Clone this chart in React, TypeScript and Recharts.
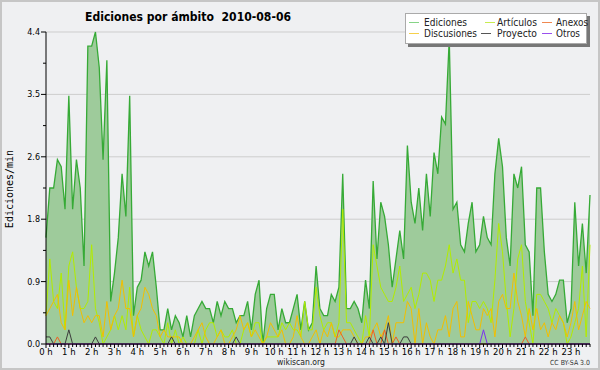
import React from 'react';
import { ComposedChart, Area, Line, XAxis, YAxis, CartesianGrid } from 'recharts';

const FONT = '"DejaVu Sans", "Liberation Sans", sans-serif';
const MONO = '"DejaVu Sans Mono", "Liberation Mono", monospace';

const ediciones = [
  1.5, 2.2, 2.2, 2.6, 2.5, 1.9, 3.5, 1.9, 2.6, 2.2, 1.1, 4.2,
  4.2, 4.4, 3.9, 2.6, 4.0, 0.6, 1.0, 1.5, 2.4, 1.8, 3.5, 0.4,
  0.8, 0.9, 1.3, 1.1, 1.3, 0.8, 0.2, 0.2, 0.5, 0.2, 0.4, 0.3,
  0.1, 0.4, 0.1, 0.4, 0.5, 0.6, 0.5, 0.5, 0.3, 0.6, 0.4, 0.6,
  0.5, 0.5, 0.3, 0.4, 0.4, 0.6, 0.2, 0.7, 0.9, 0.0, 0.5, 0.7,
  0.7, 0.2, 0.5, 0.3, 0.3, 0.5, 0.7, 0.2, 0.6, 0.2, 0.3, 1.1,
  0.5, 0.4, 0.4, 0.7, 0.6, 0.8, 2.4, 0.5, 0.5, 0.6, 0.5, 0.3,
  0.9, 0.5, 2.3, 1.2, 2.0, 1.8, 1.4, 0.8, 1.2, 1.6, 1.2, 2.8,
  2.0, 1.7, 2.2, 1.6, 2.4, 1.8, 2.7, 2.4, 3.2, 3.1, 4.3, 1.9,
  2.0, 1.4, 1.3, 1.7, 2.0, 1.3, 1.4, 1.8, 1.5, 1.4, 2.4, 2.9,
  2.5, 1.5, 1.1, 2.4, 2.2, 2.5, 1.4, 1.3, 0.4, 2.2, 2.2, 1.3,
  0.7, 0.6, 0.7, 0.9, 0.9, 0.3, 0.5, 2.0, 1.1, 1.7, 1.0, 2.1,
];

const articulos = [
  0.4, 1.2, 0.6, 0.5, 1.0, 0.2, 1.1, 1.3, 0.8, 0.5, 0.5, 0.6,
  1.4, 0.5, 0.3, 0.0, 0.1, 0.2, 0.4, 0.2, 0.4, 0.2, 0.8, 0.1,
  0.4, 0.2, 0.1, 0.0, 0.2, 0.2, 0.1, 0.0, 0.3, 0.0, 0.2, 0.0,
  0.1, 0.0, 0.0, 0.0, 0.2, 0.0, 0.2, 0.3, 0.3, 0.1, 0.2, 0.1,
  0.1, 0.2, 0.0, 0.0, 0.2, 0.3, 0.1, 0.3, 0.3, 0.0, 0.1, 0.1,
  0.1, 0.1, 0.3, 0.2, 0.3, 0.2, 0.2, 0.1, 0.6, 0.2, 0.2, 0.8,
  0.4, 0.2, 0.3, 0.3, 0.1, 0.3, 1.9, 0.3, 0.3, 0.2, 0.1, 0.0,
  0.4, 0.1, 1.4, 1.1, 0.8, 0.7, 0.6, 0.6, 0.8, 1.1, 0.6, 0.7,
  0.8, 0.5, 0.7, 1.0, 1.0, 0.9, 0.6, 0.9, 0.9, 1.1, 1.4, 1.0,
  1.2, 0.9, 0.9, 0.3, 0.6, 0.6, 0.5, 0.6, 0.5, 0.3, 0.9, 1.7,
  1.3, 0.6, 0.1, 0.5, 1.2, 1.4, 0.6, 0.3, 0.0, 0.7, 0.7, 0.6,
  0.5, 0.3, 0.5, 0.4, 0.3, 0.0, 0.1, 0.3, 0.5, 1.1, 0.1, 1.4,
];

const discusiones = [
  0.4, 0.5, 0.6, 0.7, 0.3, 0.2, 0.9, 0.4, 0.8, 0.5, 0.3, 0.4,
  0.3, 0.4, 0.4, 0.1, 0.6, 0.2, 0.4, 0.5, 0.9, 0.5, 0.5, 0.1,
  0.4, 0.5, 0.8, 0.7, 0.5, 0.4, 0.1, 0.2, 0.1, 0.1, 0.1, 0.1,
  0.0, 0.0, 0.0, 0.1, 0.2, 0.3, 0.1, 0.0, 0.0, 0.1, 0.2, 0.0,
  0.0, 0.1, 0.2, 0.4, 0.2, 0.3, 0.1, 0.2, 0.1, 0.0, 0.1, 0.3,
  0.2, 0.1, 0.2, 0.0, 0.0, 0.1, 0.4, 0.1, 0.0, 0.0, 0.1, 0.2,
  0.0, 0.2, 0.1, 0.3, 0.1, 0.1, 0.2, 0.2, 0.2, 0.1, 0.0, 0.0,
  0.1, 0.1, 0.2, 0.3, 0.1, 0.2, 0.4, 0.0, 0.3, 0.3, 0.3, 0.6,
  0.5, 0.0, 0.5, 0.0, 0.3, 0.1, 0.0, 0.2, 0.2, 0.4, 0.1, 0.5,
  0.6, 0.1, 0.1, 0.6, 0.4, 0.2, 0.2, 0.5, 0.4, 0.5, 0.1, 0.6,
  0.7, 0.5, 0.5, 1.0, 0.6, 0.4, 0.1, 0.5, 0.2, 0.5, 0.2, 0.3,
  0.1, 0.3, 0.2, 0.4, 0.3, 0.1, 0.3, 0.6, 0.2, 0.4, 0.6, 0.5,
];

const anexos = [
  0, 0, 0, 0.1, 0, 0, 0, 0, 0, 0, 0, 0,
  0, 0, 0, 0, 0, 0, 0, 0, 0, 0, 0, 0,
  0, 0, 0, 0, 0, 0, 0, 0, 0, 0, 0, 0,
  0, 0, 0, 0, 0, 0, 0, 0, 0, 0, 0, 0,
  0, 0, 0, 0, 0, 0, 0, 0, 0, 0, 0, 0,
  0, 0, 0, 0, 0, 0, 0, 0, 0, 0, 0, 0,
  0, 0, 0, 0, 0, 0.2, 0.1, 0, 0, 0, 0, 0,
  0, 0, 0.2, 0, 0, 0.2, 0, 0, 0.1, 0, 0, 0,
  0, 0, 0, 0, 0, 0, 0, 0, 0, 0, 0, 0,
  0, 0, 0, 0, 0, 0, 0, 0, 0, 0, 0, 0,
  0, 0, 0, 0, 0, 0, 0.1, 0, 0, 0, 0, 0,
  0, 0, 0, 0, 0, 0, 0, 0, 0, 0, 0, 0,
];

const proyecto = [
  0.1, 0.1, 0, 0, 0, 0, 0.2, 0, 0, 0, 0, 0,
  0, 0.1, 0, 0, 0, 0, 0, 0, 0, 0, 0, 0,
  0, 0, 0, 0, 0, 0, 0, 0, 0, 0.1, 0, 0,
  0, 0, 0, 0, 0, 0, 0, 0, 0, 0, 0, 0,
  0, 0, 0.1, 0, 0, 0, 0, 0, 0, 0, 0, 0,
  0, 0, 0, 0, 0, 0, 0, 0, 0, 0, 0, 0,
  0, 0, 0, 0, 0, 0, 0, 0, 0, 0.1, 0, 0,
  0, 0.1, 0, 0, 0.1, 0, 0.3, 0, 0, 0, 0.1, 0.1,
  0, 0, 0, 0, 0, 0, 0, 0, 0, 0, 0, 0,
  0, 0, 0, 0, 0, 0, 0, 0, 0, 0, 0, 0,
  0, 0, 0, 0, 0, 0, 0, 0, 0, 0, 0, 0,
  0, 0, 0, 0, 0, 0, 0, 0, 0, 0, 0, 0,
];

const otros = [
  0, 0, 0, 0, 0, 0, 0, 0, 0, 0, 0, 0,
  0, 0, 0, 0, 0, 0, 0, 0, 0, 0, 0, 0,
  0, 0, 0, 0, 0, 0, 0, 0, 0, 0, 0, 0,
  0, 0, 0, 0, 0, 0, 0, 0, 0, 0, 0, 0,
  0, 0, 0, 0, 0, 0, 0, 0, 0, 0, 0, 0,
  0, 0, 0, 0, 0, 0, 0, 0, 0, 0, 0, 0,
  0, 0, 0, 0, 0, 0, 0, 0, 0, 0, 0, 0,
  0, 0, 0, 0, 0, 0, 0, 0, 0, 0, 0, 0,
  0, 0, 0, 0, 0, 0, 0, 0, 0, 0, 0, 0,
  0, 0, 0, 0, 0, 0, 0, 0.2, 0, 0, 0, 0,
  0, 0, 0, 0, 0, 0, 0, 0, 0, 0, 0, 0,
  0, 0, 0, 0, 0, 0, 0, 0, 0, 0, 0, 0,
];

const hourLabels = [
  '0 h', '1 h', '2 h', '3 h', '4 h', '5 h', '6 h', '7 h', '8 h', '9 h', '10 h', '11 h',
  '12 h', '13 h', '14 h', '15 h', '16 h', '17 h', '18 h', '19 h', '20 h', '21 h', '22 h', '23 h',
];

const yTicks = [0, 0.44, 0.88, 1.32, 1.76, 2.2, 2.64, 3.08, 3.52, 3.96, 4.4];
const yGrid = [0.88, 1.76, 2.64, 3.52, 4.4];

const xTicks = ediciones.map((_, i) => i);

const data = ediciones.map((v, i) => ({
  t: i,
  ediciones: v,
  articulos: articulos[i],
  discusiones: discusiones[i],
  anexos: anexos[i],
  proyecto: proyecto[i],
  otros: otros[i],
}));

const XTick = (props: any) => {
  const { x, y, payload } = props;
  const v = payload.value as number;
  const major = v % 6 === 0;
  return (
    <g>
      <line x1={x} x2={x} y1={y} y2={y + (major ? 4 : 3)} stroke="#000" strokeWidth={1} />
      {major && (
        <text x={x} y={y + 11} textAnchor="middle" fontSize={8.5} fontFamily={FONT} fill="#000">
          {hourLabels[v / 6]}
        </text>
      )}
    </g>
  );
};

const YTick = (props: any) => {
  const { x, y, payload, index } = props;
  const major = index % 2 === 0;
  return (
    <g>
      <line x1={x - (major ? 5 : 3)} x2={x} y1={y} y2={y} stroke="#000" strokeWidth={1} />
      {major && (
        <text x={x - 6} y={y + 3} textAnchor="end" fontSize={8} fontFamily={FONT} fill="#000">
          {(payload.value as number).toFixed(1)}
        </text>
      )}
    </g>
  );
};

const legendRows = [
  [
    { name: 'Ediciones', color: '#86d486', lx: 409, tx: 424, w: 43 },
    { name: 'Artículos', color: '#c8ec50', lx: 485, tx: 497, w: 40 },
    { name: 'Anexos', color: '#f08850', lx: 542, tx: 556, w: 32 },
  ],
  [
    { name: 'Discusiones', color: '#f6d04a', lx: 409, tx: 424, w: 53 },
    { name: 'Proyecto', color: '#555555', lx: 481, tx: 497, w: 40 },
    { name: 'Otros', color: '#9a50ee', lx: 542, tx: 556, w: 24 },
  ],
];

export default function App() {
  return (
    <div style={{ position: 'absolute', left: 0, top: 0, width: 600, height: 370, background: '#eff0f2', overflow: 'hidden' }}>
      <ComposedChart width={600} height={370} data={data} margin={{ top: 32, right: 10, left: 6, bottom: 6 }}>
        <CartesianGrid vertical={false} horizontalValues={yGrid} stroke="#cdcdcd" strokeWidth={1} />
        <XAxis
          dataKey="t"
          type="number"
          domain={[0, ediciones.length - 1]}
          ticks={xTicks}
          interval={0}
          tick={<XTick />}
          tickLine={false}
          tickSize={0}
          tickMargin={0}
          height={20}
          axisLine={{ stroke: '#000' }}
        />
        <YAxis
          type="number"
          domain={[0, 4.4]}
          ticks={yTicks}
          interval={0}
          tick={<YTick />}
          tickLine={false}
          tickSize={0}
          tickMargin={0}
          width={40}
          axisLine={{ stroke: '#000' }}
        />
        <Area
          type="linear"
          dataKey="ediciones"
          stroke="#36aa36"
          strokeWidth={1.3}
          fill="#9ecb9b"
          fillOpacity={1}
          dot={false}
          activeDot={false}
          isAnimationActive={false}
        />
        <Line type="linear" dataKey="articulos" stroke="#b2ec00" strokeWidth={1} dot={false} activeDot={false} isAnimationActive={false} />
        <Line type="linear" dataKey="discusiones" stroke="#f2bf00" strokeWidth={1} dot={false} activeDot={false} isAnimationActive={false} />
        <Line type="linear" dataKey="anexos" stroke="#f06020" strokeWidth={1} dot={false} activeDot={false} isAnimationActive={false} />
        <Line type="linear" dataKey="proyecto" stroke="#3c3c3c" strokeWidth={1} dot={false} activeDot={false} isAnimationActive={false} />
        <Line type="linear" dataKey="otros" stroke="#7a30f0" strokeWidth={1} dot={false} activeDot={false} isAnimationActive={false} />
      </ComposedChart>
      <svg width={600} height={370} style={{ position: 'absolute', left: 0, top: 0, pointerEvents: 'none' }}>
        <rect x={1} y={1} width={598} height={368} fill="none" stroke="#c6c6c6" strokeWidth={2} />
        <text x={85} y={21} fontSize={13} fontWeight="bold" fontFamily={FONT} fill="#000" textLength={206} lengthAdjust="spacingAndGlyphs" style={{ whiteSpace: 'pre' }}>
          {'Ediciones por ámbito\u00a0\u00a02010-08-06'}
        </text>
        <text
          x={0}
          y={0}
          transform="translate(13,189) rotate(-90)"
          textAnchor="middle"
          fontSize={10}
          fontFamily={MONO}
          fill="#000"
        >
          Ediciones/min
        </text>
        <text x={301} y={365} textAnchor="middle" fontSize={9} fontFamily={FONT} fill="#222" textLength={48} lengthAdjust="spacingAndGlyphs">
          wikiscan.org
        </text>
        <text x={550} y={365} fontSize={7} fontFamily={FONT} fill="#333" textLength={40} lengthAdjust="spacingAndGlyphs">
          CC BY-SA 3.0
        </text>
        <rect x={408} y={16} width={182} height={31} fill="#777" />
        <rect x={405.5} y={13.5} width={181} height={30} fill="#fff" stroke="#aaa" strokeWidth={1} />
        {legendRows.map((row, ri) =>
          row.map((e) => (
            <g key={e.name}>
              <line x1={e.lx} x2={e.lx + 10} y1={22.5 + ri * 11} y2={22.5 + ri * 11} stroke={e.color} strokeWidth={1} />
              <text x={e.tx} y={26 + ri * 11} fontSize={10} fontFamily={FONT} fill="#222" textLength={e.w} lengthAdjust="spacingAndGlyphs">
                {e.name}
              </text>
            </g>
          ))
        )}
      </svg>
    </div>
  );
}
